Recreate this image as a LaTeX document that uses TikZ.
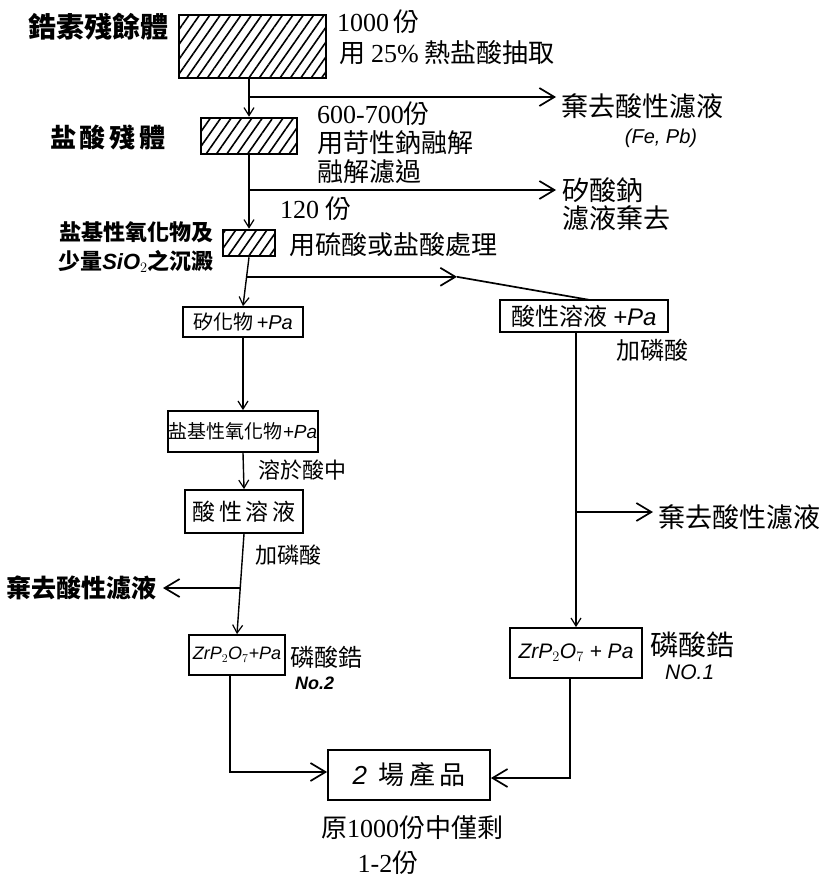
\documentclass[tikz,border=0pt]{standalone}
\usepackage{fontspec}
\setmainfont{Noto Sans CJK TC}
\newfontfamily\lat{Liberation Sans}
\newfontfamily\num{Liberation Serif}
\usetikzlibrary{arrows.meta,patterns.meta,calc}
\tikzset{
  hbox/.style={draw, line width=2.6pt, inner sep=0pt,
    pattern={Lines[angle=55,distance=8.5pt,line width=1.6pt]}},
  pbox/.style={draw, line width=1.8pt, inner sep=0pt},
  lbl/.style={inner sep=0pt, font=\fontsize{26}{28}\selectfont},
  lblb/.style={inner sep=0pt, font=\fontsize{26}{28}\selectfont\bfseries},
  small/.style={inner sep=0pt, font=\fontsize{22}{24}\selectfont},
  ital/.style={inner sep=0pt, font=\fontsize{20}{22}\selectfont\lat\itshape},
  ln/.style={line width=1.7pt},
  harr/.style={ln, -{Straight Barb[length=15pt,width=18pt,line width=1.7pt]}},
  varr/.style={line width=1.4pt, -{Straight Barb[length=8pt,width=10pt,line width=1.2pt]}}
}
\newcommand\gapsp{\hspace{4pt}}
\begin{document}
\begin{tikzpicture}[x=1pt,y=-1pt]
\fill[white] (0,0) rectangle (834,878);
\useasboundingbox (0,0) rectangle (834,878);

% ---- hatched boxes (trunk) ----
\node[hbox, minimum width=147, minimum height=63] (b1) at (252.5,46.5) {};
\node[hbox, minimum width=96, minimum height=36] (b2) at (249,136) {};
\node[hbox, minimum width=52, minimum height=26] (b3) at (249,243) {};

% ---- labels near hatched boxes ----
\node[lblb, font=\fontsize{28}{30}\selectfont\bfseries] (l1) at (98,27) {鋯素殘餘體};
\node[lbl, anchor=west] (t1a) at (337,22) {{\num 1000}\,份};
\node[lbl, anchor=west] (t1b) at (339,53) {用 {\num 25\%} 熱盐酸抽取};
\node[lblb] (l2) at (108,137) {盐\gapsp 酸\gapsp 殘\gapsp 體};
\node[lbl, anchor=west] (t2a) at (317,114) {{\num 600-700}份};
\node[lbl, anchor=west] (t2b) at (317,143) {用苛性鈉融解};
\node[lbl, anchor=west] (t2c) at (317,172) {融解濾過};
\node[lbl, anchor=west] (t4a) at (280,209) {{\num 120} 份};
\node[lbl, anchor=west] (t4b) at (289,245) {用硫酸或盐酸處理};
\node[inner sep=0pt, align=center, font=\fontsize{22}{29}\selectfont\bfseries] (l3) at (136,247) {盐基性氧化物及\\少量{\lat\itshape SiO$_2$}之沉澱};

% ---- branch texts ----
\node[lbl, font=\fontsize{27}{29}\selectfont, anchor=west] (t3) at (561,106) {棄去酸性濾液};
\node[ital] (t3b) at (661,138) {(Fe, Pb)};
\node[lbl, font=\fontsize{27}{29}\selectfont, anchor=west] (t5a) at (562,190) {矽酸鈉};
\node[lbl, font=\fontsize{27}{29}\selectfont, anchor=west] (t5b) at (562,218) {濾液棄去};

% ---- left chain boxes ----
\node[pbox, minimum width=120, minimum height=30, font=\fontsize{20}{22}\selectfont] (b4) at (243,322) {矽化物{\lat\itshape\,+Pa}};
\node[pbox, minimum width=150, minimum height=41, font=\fontsize{19}{21}\selectfont] (b5) at (243,431.5) {盐基性氧化物{\lat\itshape +Pa}};
\node[pbox, minimum width=118, minimum height=43, font=\fontsize{23}{25}\selectfont] (b6) at (244,511.5) {酸\,性\,溶\,液};
\node[pbox, minimum width=96, minimum height=40, font=\fontsize{18}{20}\selectfont\lat\itshape] (b7) at (237,655) {ZrP$_2$O$_7$+Pa};
\node[small, anchor=west] (t6) at (258,470) {溶於酸中};
\node[small, anchor=west] (t7) at (255,555) {加磷酸};
\node[lblb, font=\fontsize{25}{27}\selectfont\bfseries, anchor=east] (t8) at (157,588) {棄去酸性濾液};
\node[lbl, font=\fontsize{24}{26}\selectfont, anchor=west] (t9) at (290,657) {磷酸鋯};
\node[ital, font=\fontsize{18}{20}\selectfont\lat\itshape\bfseries, anchor=west] (t9b) at (295,683) {No.2};

% ---- right chain ----
\node[pbox, minimum width=168, minimum height=32, font=\fontsize{24}{26}\selectfont] (rb1) at (584,316) {酸性溶液 {\lat\itshape +Pa}};
\node[small, font=\fontsize{24}{26}\selectfont] (t10) at (652,350) {加磷酸};
\node[pbox, minimum width=132, minimum height=50, font=\fontsize{21}{23}\selectfont\lat\itshape] (rb2) at (576,653) {ZrP$_2$O$_7$ + Pa};
\node[lbl, font=\fontsize{27}{29}\selectfont, anchor=west] (t11) at (658,517) {棄去酸性濾液};
\node[lbl, font=\fontsize{28}{30}\selectfont, anchor=west] (t12) at (650,645) {磷酸鋯};
\node[ital, font=\fontsize{21}{23}\selectfont\lat\itshape, anchor=west] (t12b) at (665,672) {NO.1};

% ---- product ----
\node[pbox, minimum width=162, minimum height=50, font=\fontsize{26}{28}\selectfont] (pb) at (409,775) {{\lat\itshape 2}\ \ 場\,產\,品};
\node[lbl] (t13) at (412,828) {原{\num 1000}份中僅剩};
\node[lbl] (t14) at (388,863) {{\num 1-2}份};

% ---- coordinates ----
\coordinate (j1) at (249,97);
\coordinate (e1) at (556,97);
\coordinate (j2) at (249,190);
\coordinate (e2) at (556,190);
\coordinate (j3) at ($(b3.south)!0.4!(b4.north)$);
\coordinate (e3) at (457,275);
\coordinate (j5) at ($(b6.south)!0.54!(b7.north)$);
\coordinate (e5) at (163,588);
\coordinate (j4) at (576,512);
\coordinate (e4) at (653,512);
\coordinate (r1) at (590,300);

% ---- connectors ----
\draw[varr] (b1.south -| b2.north) -- (b2.north);
\draw[varr] (b2.south) -- (b3.north);
\draw[varr] (b3.south) -- (b4.north);
\draw[varr] (b4.south) -- (b5.north);
\draw[varr] (b5.south) -- (b6.north);
\draw[varr] (b6.south) -- (b7.north);
\draw[harr] (j1) -- (e1);
\draw[harr] (j2) -- (e2);
\draw[harr] (j3) -- (j3 -| e3);
\draw[ln] (j3 -| e3) -- (r1);
\draw[harr] (j5) -- (j5 -| e5);
\draw[varr] (rb1.south -| rb2.north) -- (rb2.north);
\draw[harr] (j4) -- (e4);
\draw[harr] ([xshift=-7pt]b7.south) |- ([yshift=3pt]pb.west);
\draw[harr] ([xshift=-6pt]rb2.south) |- ([yshift=-3pt]pb.east);
\end{tikzpicture}
\end{document}
